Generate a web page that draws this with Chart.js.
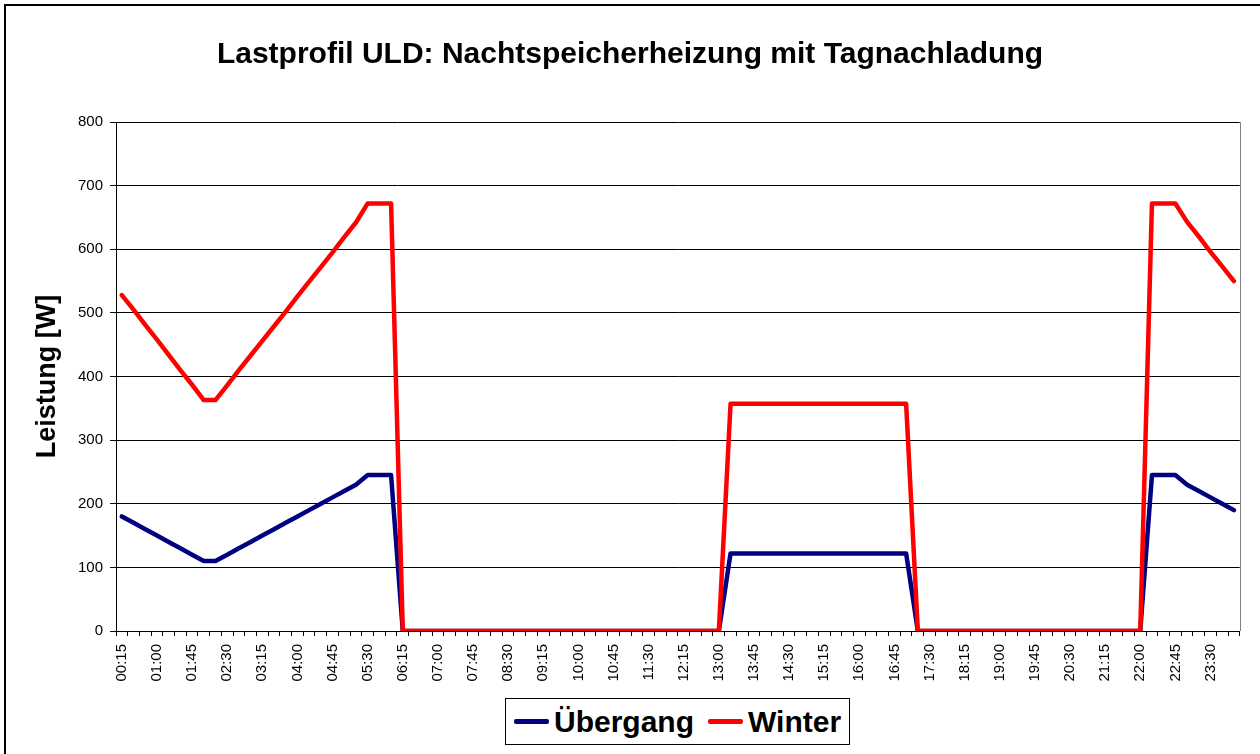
<!DOCTYPE html>
<html>
<head>
<meta charset="utf-8">
<script src="https://cdn.jsdelivr.net/npm/chart.js@4/dist/chart.umd.min.js"></script>
<style>
    body { margin: 0; background: #fff; }
    #wrap { position: relative; width: 1260px; height: 754px; overflow: hidden; }
    #legend {
        position: absolute; left: 505px; top: 698px; width: 345px; height: 47px;
        box-sizing: border-box; border: 1px solid #000; background: #fff;
        display: flex; align-items: center; padding-left: 8px;
        font: bold 30px "Liberation Sans", Arial, sans-serif; color: #000;
    }
    #legend .item { display: flex; align-items: center; margin-right: 14px; }
    #legend .line { width: 35px; height: 5px; border-radius: 2px; margin-right: 5px; }
</style>
</head>
<body>
<div id="wrap">
    <canvas id="myChart" width="1260" height="754"></canvas>
    <div id="legend"></div>
</div>
<script>
// Zeitachse: Viertelstunden von 00:15 bis 24:00
const timeLabels = [
    '00:15', '00:30', '00:45', '01:00', '01:15', '01:30', '01:45', '02:00',
    '02:15', '02:30', '02:45', '03:00', '03:15', '03:30', '03:45', '04:00',
    '04:15', '04:30', '04:45', '05:00', '05:15', '05:30', '05:45', '06:00',
    '06:15', '06:30', '06:45', '07:00', '07:15', '07:30', '07:45', '08:00',
    '08:15', '08:30', '08:45', '09:00', '09:15', '09:30', '09:45', '10:00',
    '10:15', '10:30', '10:45', '11:00', '11:15', '11:30', '11:45', '12:00',
    '12:15', '12:30', '12:45', '13:00', '13:15', '13:30', '13:45', '14:00',
    '14:15', '14:30', '14:45', '15:00', '15:15', '15:30', '15:45', '16:00',
    '16:15', '16:30', '16:45', '17:00', '17:15', '17:30', '17:45', '18:00',
    '18:15', '18:30', '18:45', '19:00', '19:15', '19:30', '19:45', '20:00',
    '20:15', '20:30', '20:45', '21:00', '21:15', '21:30', '21:45', '22:00',
    '22:15', '22:30', '22:45', '23:00', '23:15', '23:30', '23:45', '00:00'
];

const uebergang = [
    180, 170, 160, 150, 140, 130, 120, 110,
    110, 120, 130, 140, 150, 160, 170, 180,
    190, 200, 210, 220, 230, 245, 245, 245,
    0, 0, 0, 0, 0, 0, 0, 0,
    0, 0, 0, 0, 0, 0, 0, 0,
    0, 0, 0, 0, 0, 0, 0, 0,
    0, 0, 0, 0, 122, 122, 122, 122,
    122, 122, 122, 122, 122, 122, 122, 122,
    122, 122, 122, 122, 0, 0, 0, 0,
    0, 0, 0, 0, 0, 0, 0, 0,
    0, 0, 0, 0, 0, 0, 0, 0,
    245, 245, 245, 230, 220, 210, 200, 190
];

const winter = [
    528, 505, 481, 458, 434, 410, 387, 363,
    363, 386, 410, 433, 456, 479, 502, 526,
    549, 572, 595, 619, 642, 672, 672, 672,
    0, 0, 0, 0, 0, 0, 0, 0,
    0, 0, 0, 0, 0, 0, 0, 0,
    0, 0, 0, 0, 0, 0, 0, 0,
    0, 0, 0, 0, 357, 357, 357, 357,
    357, 357, 357, 357, 357, 357, 357, 357,
    357, 357, 357, 357, 0, 0, 0, 0,
    0, 0, 0, 0, 0, 0, 0, 0,
    0, 0, 0, 0, 0, 0, 0, 0,
    672, 672, 672, 643, 620, 596, 573, 550
];

const yTicks = [0, 100, 200, 300, 400, 500, 600, 700, 800];

const FONT = '"Liberation Sans", Arial, sans-serif';

const seriesInfo = [
    { label: 'Übergang', data: uebergang, color: '#000080', order: 1 },
    { label: 'Winter', data: winter, color: '#ff0000', order: 0 }
];

// Legende als Kasten unter dem Diagramm
const legendEl = document.getElementById('legend');
seriesInfo.forEach(s => {
    const item = document.createElement('span');
    item.className = 'item';
    const line = document.createElement('span');
    line.className = 'line';
    line.style.background = s.color;
    item.appendChild(line);
    item.appendChild(document.createTextNode(s.label));
    legendEl.appendChild(item);
});

const framePlugin = {
    id: 'frame',
    beforeDraw: chart => {
        const c = chart.ctx;
        c.save();
        c.strokeStyle = '#000';
        c.lineWidth = 2;
        c.strokeRect(5, 5, 1300, 800);
        c.restore();
    },
    afterDatasetsDraw: chart => {
        const { right, top, bottom } = chart.chartArea;
        const c = chart.ctx;
        c.save();
        c.strokeStyle = '#808080';
        c.lineWidth = 1;
        c.beginPath();
        c.moveTo(Math.round(right) + 0.5, top);
        c.lineTo(Math.round(right) + 0.5, bottom);
        c.stroke();
        c.restore();
    }
};

const ctx = document.getElementById('myChart').getContext('2d');
const chart = new Chart(ctx, {
    type: 'line',
    data: {
        labels: timeLabels,
        datasets: seriesInfo.map(s => ({
            label: s.label,
            data: s.data,
            borderColor: s.color,
            backgroundColor: s.color,
            borderWidth: 4.5,
            pointRadius: 0,
            tension: 0,
            fill: false,
            borderJoinStyle: 'round',
            borderCapStyle: 'round',
            order: s.order
        }))
    },
    options: {
        responsive: false,
        animation: false,
        devicePixelRatio: 1,
        layout: {
            padding: { left: 20, right: 20, top: 37, bottom: 60 }
        },
        plugins: {
            legend: { display: false },
            tooltip: { enabled: false },
            title: {
                display: true,
                text: 'Lastprofil ULD: Nachtspeicherheizung mit Tagnachladung',
                color: '#000',
                font: { family: FONT, size: 30, weight: 'bold' },
                padding: { top: 0, bottom: 49 }
            }
        },
        scales: {
            x: {
                type: 'category',
                offset: true,
                grid: {
                    offset: true,
                    drawOnChartArea: false,
                    tickLength: 5,
                    color: '#000'
                },
                border: { display: true, color: '#000', width: 1 },
                ticks: {
                    autoSkip: false,
                    maxRotation: 90,
                    minRotation: 90,
                    padding: 8,
                    color: '#000',
                    font: { family: FONT, size: 15 },
                    callback: (value, index) => index % 3 === 0 ? timeLabels[index] : ''
                },
                afterFit: scale => { scale.height = 63; }
            },
            y: {
                min: yTicks[0],
                max: yTicks[yTicks.length - 1],
                afterBuildTicks: scale => {
                    scale.ticks = yTicks.map(v => ({ value: v }));
                },
                grid: {
                    color: '#000',
                    lineWidth: 1,
                    tickLength: 6
                },
                border: { display: true, color: '#000', width: 1 },
                ticks: {
                    padding: 7,
                    color: '#000',
                    font: { family: FONT, size: 15 }
                },
                title: {
                    display: true,
                    text: 'Leistung [W]',
                    color: '#000',
                    font: { family: FONT, size: 27, weight: 'bold' },
                    padding: { top: 11, bottom: 0 }
                },
                afterFit: scale => { scale.width = 96; }
            }
        }
    },
    plugins: [framePlugin]
});
</script>
</body>
</html>
